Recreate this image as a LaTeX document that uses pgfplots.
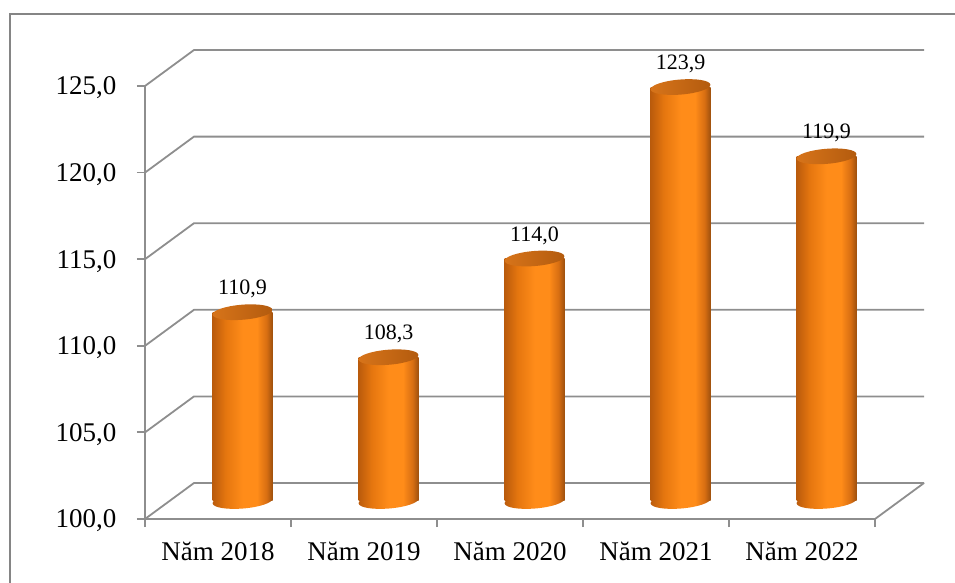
\documentclass[border=0pt]{standalone}
\usepackage{pgfplots}
\pgfplotsset{compat=1.18}
\usepackage{fontspec}
\setmainfont{Liberation Serif}
\definecolor{gridgray}{HTML}{8E8E8E}
\definecolor{framegray}{HTML}{858585}
\definecolor{cA}{HTML}{BA5B0C}
\definecolor{cB}{HTML}{E5760F}
\definecolor{cC}{HTML}{FF8C19}
\definecolor{cD}{HTML}{D86E12}
\definecolor{cE}{HTML}{9E500E}
\definecolor{tA}{HTML}{D7741A}
\definecolor{tB}{HTML}{B35B0E}
\pgfdeclarehorizontalshading{cylshade}{100bp}{color(0bp)=(cA); color(25bp)=(cA); color(36bp)=(cB); color(50bp)=(cC); color(62bp)=(cC); color(70bp)=(cD); color(75bp)=(cE); color(100bp)=(cE)}
\pgfdeclarehorizontalshading{topshade}{100bp}{color(0bp)=(tA); color(25bp)=(tA); color(75bp)=(tB); color(100bp)=(tB)}
\pgfdeclareplotmark{cylbot}{%
  \pgfpathellipse{\pgfpointorigin}{\pgfqpoint{29.9pt}{2.4pt}}{\pgfqpoint{-0.6pt}{7.5pt}}%
  \pgfshadepath{cylshade}{0}%
  \pgfusepath{discard}%
}
\pgfdeclareplotmark{cyltop}{%
  \pgfpathellipse{\pgfpointorigin}{\pgfqpoint{29.9pt}{2.4pt}}{\pgfqpoint{-0.6pt}{7.5pt}}%
  \pgfshadepath{topshade}{0}%
  \pgfusepath{discard}%
}
\begin{document}
\begin{tikzpicture}[x=1pt,y=1pt]
\useasboundingbox (0,0) rectangle (955,583);
\draw[framegray, line width=2pt] (10,-20) -- (10,569) -- (980,569);
\begin{axis}[
  at={(145pt,64pt)}, anchor=south west,
  width=730pt, height=433pt, scale only axis,
  xmin=-0.5, xmax=4.5, ymin=100, ymax=125,
  axis lines*=left,
  axis line style={draw=gridgray, line width=1.8pt},
  tick style={draw=gridgray, line width=1.8pt},
  tick align=outside, major tick length=8pt,
  ytick={100,105,110,115,120,125},
  yticklabel style={xshift=-17pt, yshift=-2pt},
  xtick={-0.5,0.5,1.5,2.5,3.5,4.5}, xticklabels={},
  extra x ticks={0,1,2,3,4},
  extra x tick labels={Năm 2018,Năm 2019,Năm 2020,Năm 2021,Năm 2022},
  extra x tick style={major tick length=0pt, xticklabel style={yshift=-20pt}},
  /pgf/number format/.cd, fixed, fixed zerofill, precision=1, use comma, assume math mode=true,
  /pgfplots/.cd,
  tick label style={font=\fontsize{27}{30}\selectfont, text=black},
  clip=false,
]
\pgfplotsinvokeforeach{100,105,110,115,120,125}{
  \draw[gridgray, line width=1.8pt] (axis cs:-0.5,#1) -- (axis cs:-0.1644,#1+2.078) -- (axis cs:4.8356,#1+2.078);
}
\draw[gridgray, line width=1.8pt] (axis cs:4.5,100) -- (axis cs:4.8356,102.078);
\end{axis}
\begin{axis}[
  at={(169.5pt,82pt)}, anchor=south west,
  width=730pt, height=433pt, scale only axis,
  xmin=-0.5, xmax=4.5, ymin=100, ymax=125,
  axis lines=none, ticks=none,
  clip mode=individual,
]
% bottom ellipses
\addplot[only marks, mark=cylbot] coordinates {(0,100) (1,100) (2,100) (3,100) (4,100)};
% bodies
\addplot[ybar, bar width=60pt, bar shift=0pt, draw=none, shade, shading=cylshade] coordinates {(0,110.9)};
\addplot[ybar, bar width=60pt, bar shift=0pt, draw=none, shade, shading=cylshade] coordinates {(1,108.3)};
\addplot[ybar, bar width=60pt, bar shift=0pt, draw=none, shade, shading=cylshade] coordinates {(2,114.0)};
\addplot[ybar, bar width=60pt, bar shift=0pt, draw=none, shade, shading=cylshade] coordinates {(3,123.9)};
\addplot[ybar, bar width=60pt, bar shift=0pt, draw=none, shade, shading=cylshade] coordinates {(4,119.9)};
% tops with labels
\addplot[only marks, mark=cyltop,
  nodes near coords={\pgfmathprintnumber[fixed,fixed zerofill,precision=1,use comma,assume math mode=true]{\pgfplotspointmeta}},
  every node near coord/.append style={font=\fontsize{22}{24}\selectfont, text=black, anchor=center, yshift=23pt},
] coordinates {(0,110.9) (1,108.3) (2,114.0) (3,123.9) (4,119.9)};
\end{axis}
\end{tikzpicture}
\end{document}
